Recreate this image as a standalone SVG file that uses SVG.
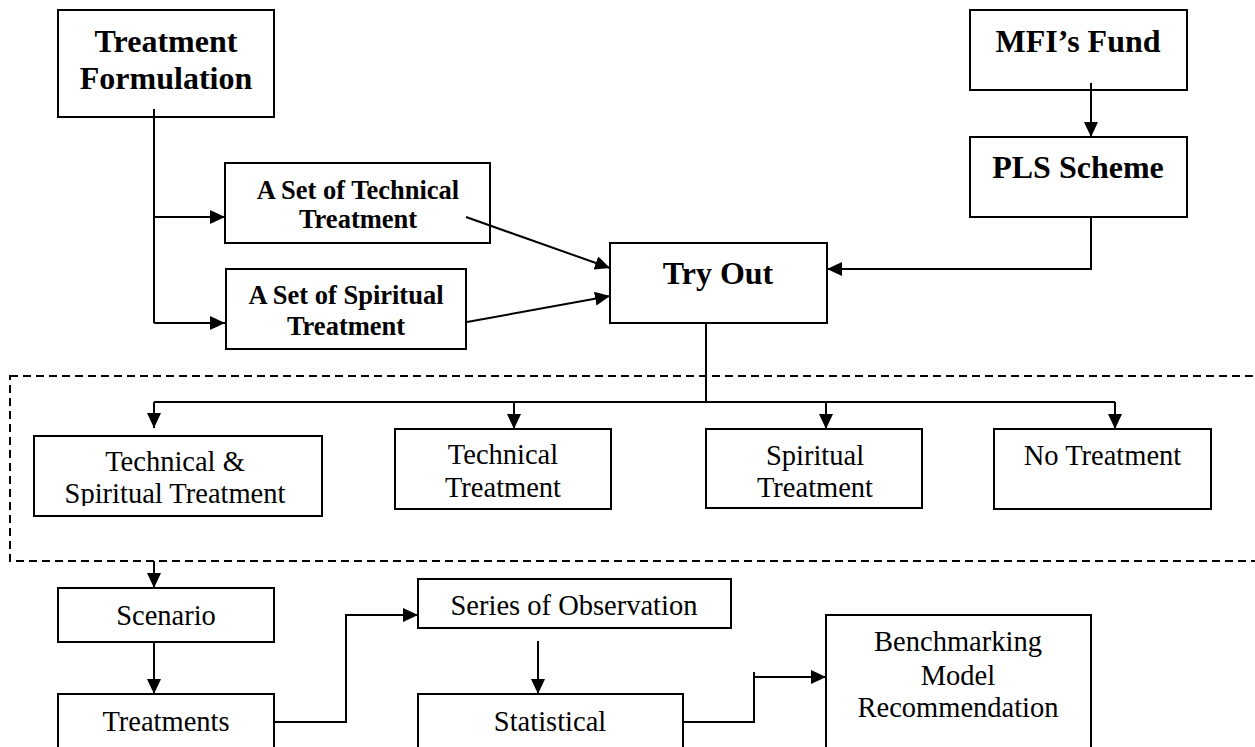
<svg xmlns="http://www.w3.org/2000/svg" width="1255" height="747" viewBox="0 0 1255 747">
  <defs>
    <marker id="arrow" viewBox="0 0 15 14" refX="15" refY="7" markerWidth="15" markerHeight="14" markerUnits="userSpaceOnUse" orient="auto">
      <path d="M0 0 L15 7 L0 14 Z" fill="#000"/>
    </marker>
    <clipPath id="clip-ts">
      <rect x="34" y="436" width="288" height="70"/>
    </clipPath>
  </defs>
  <style>
    .box { fill: #fff; stroke: #000; stroke-width: 2; }
    .bold { font-family: "Liberation Serif", "Times New Roman", serif; font-weight: bold; fill: #000; text-anchor: middle; }
    .big { font-size: 32px; }
    .mid { font-size: 26.5px; }
    .reg { font-family: "Liberation Serif", "Times New Roman", serif; font-size: 28.5px; fill: #000; text-anchor: middle; }
    .wire { fill: none; stroke: #000; stroke-width: 2; }
    .dash { fill: none; stroke: #000; stroke-width: 2; stroke-dasharray: 8 5; }
  </style>
  <rect width="1255" height="747" fill="#fff"/>

  <!-- dashed frame around the four experimental groups -->
  <rect id="group-frame" class="dash" x="10" y="376" width="1260" height="185"/>

  <g id="treatment-formulation">
    <rect class="box" x="58" y="10" width="216" height="107"/>
    <text class="bold big" x="166" y="52">Treatment</text>
    <text class="bold big" x="166" y="89">Formulation</text>
  </g>

  <g id="technical-set">
    <rect class="box" x="225" y="163" width="265" height="80"/>
    <text class="bold mid" x="358" y="199">A Set of Technical</text>
    <text class="bold mid" x="358" y="228">Treatment</text>
  </g>

  <g id="spiritual-set">
    <rect class="box" x="226" y="269" width="240" height="80"/>
    <text class="bold mid" x="346" y="304">A Set of Spiritual</text>
    <text class="bold mid" x="346" y="335">Treatment</text>
  </g>

  <g id="try-out">
    <rect class="box" x="610" y="243" width="217" height="80"/>
    <text class="bold big" x="718" y="284">Try Out</text>
  </g>

  <g id="mfi-fund">
    <rect class="box" x="970" y="10" width="217" height="80"/>
    <text class="bold big" x="1078" y="52">MFI’s Fund</text>
  </g>

  <g id="pls-scheme">
    <rect class="box" x="970" y="137" width="217" height="80"/>
    <text class="bold big" x="1078" y="178">PLS Scheme</text>
  </g>

  <g id="technical-spiritual">
    <rect class="box" x="34" y="436" width="288" height="80"/>
    <g clip-path="url(#clip-ts)">
      <text class="reg" x="175" y="471">Technical &amp;</text>
      <text class="reg" x="175" y="503">Spiritual Treatment</text>
    </g>
  </g>

  <g id="technical-only">
    <rect class="box" x="395" y="429" width="216" height="80"/>
    <text class="reg" x="503" y="464">Technical</text>
    <text class="reg" x="503" y="497">Treatment</text>
  </g>

  <g id="spiritual-only">
    <rect class="box" x="706" y="429" width="216" height="79"/>
    <text class="reg" x="815" y="465">Spiritual</text>
    <text class="reg" x="815" y="497">Treatment</text>
  </g>

  <g id="no-treatment">
    <rect class="box" x="994" y="429" width="217" height="80"/>
    <text class="reg" x="1102.5" y="465">No Treatment</text>
  </g>

  <g id="scenario">
    <rect class="box" x="58" y="588" width="216" height="54"/>
    <text class="reg" x="166" y="625">Scenario</text>
  </g>

  <g id="treatments">
    <rect class="box" x="58" y="694" width="216" height="80"/>
    <text class="reg" x="166" y="731">Treatments</text>
  </g>

  <g id="series-of-observation">
    <rect class="box" x="418" y="579" width="313" height="49"/>
    <text class="reg" x="574" y="615">Series of Observation</text>
  </g>

  <g id="statistical">
    <rect class="box" x="418" y="694" width="265" height="80"/>
    <text class="reg" x="550" y="731">Statistical</text>
  </g>

  <g id="benchmarking">
    <rect class="box" x="826" y="615" width="265" height="160"/>
    <text class="reg" x="958" y="651">Benchmarking</text>
    <text class="reg" x="958" y="685">Model</text>
    <text class="reg" x="958" y="717">Recommendation</text>
  </g>

  <!-- connectors, drawn over the boxes so the stubs inside them stay visible -->
  <g id="connectors">
    <path class="wire" d="M154 109 V323"/>
    <path class="wire" d="M154 217 H225" marker-end="url(#arrow)"/>
    <path class="wire" d="M154 323 H225" marker-end="url(#arrow)"/>
    <path class="wire" d="M466 217 L610 268" marker-end="url(#arrow)"/>
    <path class="wire" d="M467 322 L610 296" marker-end="url(#arrow)"/>
    <path class="wire" d="M1091 83 V137" marker-end="url(#arrow)"/>
    <path class="wire" d="M1091 217 V269 H827" marker-end="url(#arrow)"/>
    <path class="wire" d="M706 323 V402"/>
    <path class="wire" d="M154 402 H1115"/>
    <path class="wire" d="M154 402 V428" marker-end="url(#arrow)"/>
    <path class="wire" d="M514 402 V429" marker-end="url(#arrow)"/>
    <path class="wire" d="M826 402 V429" marker-end="url(#arrow)"/>
    <path class="wire" d="M1115 402 V429" marker-end="url(#arrow)"/>
    <path class="wire" d="M154 561 V588" marker-end="url(#arrow)"/>
    <path class="wire" d="M154 642 V694" marker-end="url(#arrow)"/>
    <path class="wire" d="M274 722 H346 V615 H418" marker-end="url(#arrow)"/>
    <path class="wire" d="M538 641 V694" marker-end="url(#arrow)"/>
    <path class="wire" d="M683 722 H754"/>
    <path class="wire" d="M754 672 V723"/>
    <path class="wire" d="M754 677 H826" marker-end="url(#arrow)"/>
  </g>
</svg>
